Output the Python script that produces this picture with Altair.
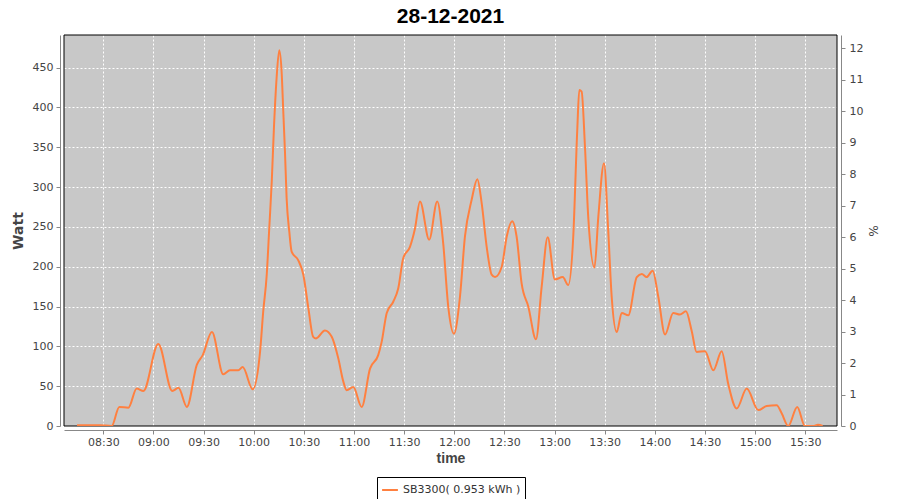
import altair as alt
import pandas as pd

day = "2021-12-28"
series_name = "SB3300( 0.953 kWh )"

times = [
    "08:14:18", "08:28:00", "08:35:00", "08:39:36", "08:45:00", "08:50:00", "08:54:00",
    "09:02:54", "09:11:18", "09:15:00", "09:20:00", "09:26:00", "09:29:30", "09:35:00",
    "09:41:48", "09:45:48", "09:50:48", "09:53:24", "09:59:24", "10:03:48", "10:05:42",
    "10:07:48", "10:09:18", "10:10:48", "10:12:06", "10:13:42", "10:15:18", "10:16:42",
    "10:17:42", "10:18:42", "10:19:42", "10:21:18", "10:22:42", "10:26:42", "10:29:42",
    "10:32:42", "10:35:36", "10:37:18", "10:42:36", "10:46:42", "10:50:36", "10:53:36",
    "10:55:36", "10:59:36", "11:04:36", "11:09:36", "11:14:30", "11:16:36", "11:19:36",
    "11:23:30", "11:26:30", "11:29:30", "11:33:30", "11:36:30", "11:39:30", "11:45:00",
    "11:49:48", "11:53:24", "11:56:24", "11:59:48", "12:03:24", "12:06:24", "12:10:24",
    "12:13:48", "12:16:24", "12:19:24", "12:22:24", "12:24:24", "12:28:24", "12:31:24",
    "12:34:42", "12:37:18", "12:40:18", "12:44:18", "12:48:54", "12:52:18", "12:55:54",
    "13:00:12", "13:04:54", "13:08:12", "13:11:12", "13:13:36", "13:14:48", "13:16:12",
    "13:18:12", "13:20:12", "13:23:54", "13:26:12", "13:29:36", "13:32:06", "13:34:12",
    "13:37:12", "13:40:12", "13:44:06", "13:49:12", "13:52:12", "13:55:06", "13:58:42",
    "14:02:06", "14:06:06", "14:11:00", "14:15:00", "14:18:36", "14:22:00", "14:25:00",
    "14:30:00", "14:35:00", "14:40:00", "14:43:54", "14:49:00", "14:55:00", "15:01:54",
    "15:06:54", "15:12:54", "15:15:54", "15:19:48", "15:25:12", "15:29:48", "15:34:48",
    "15:37:36", "15:40:24",
]
watts = [
    1, 1, 0, 24, 23, 47, 44,
    103, 44, 48, 24, 77, 89, 118,
    65, 70, 70, 74, 46, 93, 144,
    190, 248, 307, 374, 437, 472, 445,
    395, 345, 286, 244, 219, 208, 190,
    148, 112, 110, 120, 112, 85, 56,
    45, 49, 24, 72, 89, 106, 142,
    156, 173, 211, 225, 248, 282, 234,
    282, 229, 150, 116, 162, 238, 284,
    310, 280, 225, 190, 187, 200, 238,
    257, 238, 179, 150, 109, 175, 237,
    184, 187, 177, 238, 372, 422, 420,
    351, 261, 199, 263, 330, 246, 162,
    118, 142, 139, 187, 191, 187, 195,
    162, 115, 142, 140, 144, 120, 93,
    94, 70, 94, 53, 22, 47, 20,
    25, 26, 16, 0, 24, 0, 0,
    1.5, 0,
]

time_ticks = ["08:30", "09:00", "09:30", "10:00", "10:30", "11:00", "11:30", "12:00",
              "12:30", "13:00", "13:30", "14:00", "14:30", "15:00", "15:30"]
watt_ticks = [0, 50, 100, 150, 200, 250, 300, 350, 400, 450]
pct_ticks = [0, 1, 2, 3, 4, 5, 6, 7, 8, 9, 10, 11, 12]
watt_per_pct = 39.6

W, H = 773, 391


def dt(hm, s=0):
    h, m = hm.split(":")
    return alt.DateTime(year=2021, month=12, date=28, hours=int(h), minutes=int(m), seconds=s)


df = pd.DataFrame({
    "time": [f"{day}T{t}" for t in times],
    "watt": watts,
    "series": series_name,
})

x_enc = alt.X(
    "time:T",
    scale=alt.Scale(domain=[dt("08:06", 30), dt("15:49")]),
    axis=alt.Axis(
        format="%H:%M",
        values=[dt(t) for t in time_ticks],
        title="time",
        titleFont="Liberation Sans",
        titleFontSize=14,
        titleFontWeight="bold",
        titlePadding=4,
        offset=4,
        grid=True,
        labelPadding=2,
    ),
)

base = alt.Chart(df)

# plot frame drawn above the grid lines, below the data line
frame = alt.Chart(alt.Data(values=[{}])).mark_rect(
    fill=None, stroke="black", strokeWidth=1
).encode(x=alt.value(0), x2=alt.value(W), y=alt.value(0), y2=alt.value(H))

line = base.mark_line(interpolate="monotone", strokeWidth=2, clip=True).encode(
    x=x_enc,
    y=alt.Y(
        "watt:Q",
        scale=alt.Scale(domain=[0, 491], nice=False),
        axis=alt.Axis(
            values=watt_ticks,
            title="Watt",
            titleFont="DejaVu Sans",
            titleFontSize=14,
            titleFontWeight="bold",
            titlePadding=7,
            offset=4,
            grid=True,
            labelPadding=3,
        ),
    ),
    color=alt.Color(
        "series:N",
        scale=alt.Scale(range=["#ff8040"]),
        legend=alt.Legend(
            title=None,
            orient="none",
            legendX=313,
            legendY=442,
            strokeColor="black",
            fillColor="white",
            padding=4,
            symbolType="stroke",
            symbolStrokeWidth=2,
            symbolSize=250,
            labelFont="DejaVu Sans",
            labelFontSize=11,
            labelColor="#333",
        ),
    ),
)

pct = base.transform_calculate(pct=f"datum.watt / {watt_per_pct}").mark_line(opacity=0).encode(
    x=alt.X("time:T"),
    y=alt.Y(
        "pct:Q",
        scale=alt.Scale(domain=[0, 12.42], nice=False),
        axis=alt.Axis(
            orient="right",
            values=pct_ticks,
            title="%",
            titleAngle=90,
            titleFont="DejaVu Sans",
            titleFontSize=12,
            titleFontWeight="normal",
            titlePadding=3,
            offset=4,
            grid=False,
            labelPadding=4,
        ),
    ),
)

chart = (
    alt.layer(frame, line, pct)
    .resolve_scale(y="independent")
    .properties(
        width=W,
        height=H,
        autosize=alt.AutoSizeParams(type="none"),
        padding={"left": 56, "top": 27, "right": 55, "bottom": 73},
        title=alt.TitleParams(
            "28-12-2021",
            font="Liberation Sans",
            fontSize=21,
            fontWeight="bold",
            color="black",
            anchor="middle",
            offset=8,
        ),
    )
    .configure_view(fill="#c8c8c8", stroke=None)
    .configure_axis(
        domainColor="#888888",
        tickColor="#888888",
        tickSize=4,
        labelColor="#444444",
        labelFont="DejaVu Sans",
        labelFontSize=11,
        titleColor="#444444",
        gridColor="white",
        gridDash=[2, 2],
        gridWidth=1,
        gridOpacity=1,
    )
)

chart.save("out.html", embed_options={"renderer": "svg", "actions": False})
